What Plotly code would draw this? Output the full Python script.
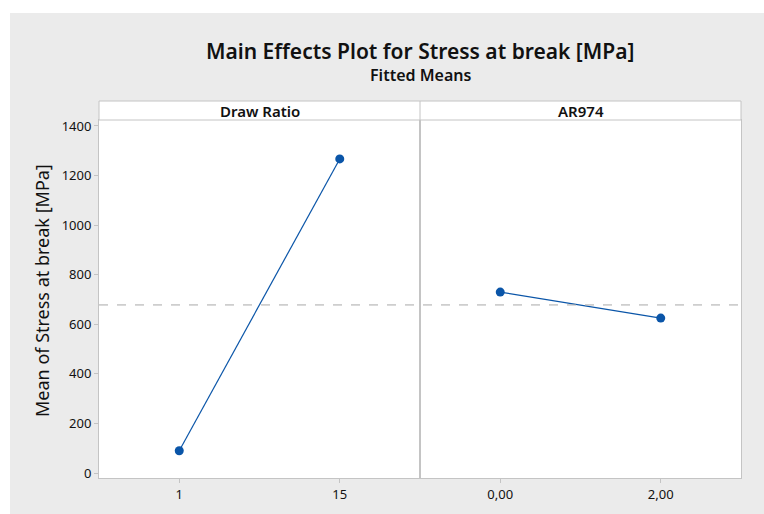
import plotly.graph_objects as go

# ---- data ----
draw_ratio_levels = ["1", "15"]
draw_ratio_means = [90, 1267]
ar974_levels = ["0,00", "2,00"]
ar974_means = [730, 625]
overall_mean = 678
y_ticks = [0, 200, 400, 600, 800, 1000, 1200, 1400]
panel_titles = ["Draw Ratio", "AR974"]

W, H = 764, 514
L, R, T, B = 99, 23, 101, 36
pw, ph = W - L - R, H - T - B
def px(x):
    return (x - L) / pw
def py(y):
    return (H - B - y) / ph

FONT = "Noto Sans"
BLUE = "#0a55a8"
GRID = "#c4c4c4"
BG = "#ebebeb"
TXT = "#111111"
strip_h = 19
ydom_top = (ph - strip_h) / ph

fig = go.Figure()
fig.add_trace(go.Scatter(x=draw_ratio_levels, y=draw_ratio_means, mode="lines+markers",
                         line=dict(color=BLUE, width=1.2), marker=dict(color=BLUE, size=9),
                         xaxis="x", yaxis="y", showlegend=False))
fig.add_trace(go.Scatter(x=ar974_levels, y=ar974_means, mode="lines+markers",
                         line=dict(color=BLUE, width=1.2), marker=dict(color=BLUE, size=9),
                         xaxis="x2", yaxis="y2", showlegend=False))

axis_common = dict(showline=True, linecolor=GRID, linewidth=1, mirror=True,
                   showgrid=False, zeroline=False, ticks="outside", ticklen=4,
                   tickcolor=GRID, tickfont=dict(family=FONT, size=13, color=TXT))
fig.update_layout(
    width=W, height=H,
    margin=dict(l=L, r=R, t=T, b=B),
    paper_bgcolor=BG, plot_bgcolor="white",
    xaxis=dict(domain=[0, 0.5], type="category", range=[-0.5, 1.5], anchor="y", **axis_common),
    xaxis2=dict(domain=[0.5, 1], type="category", range=[-0.5, 1.5], anchor="y2", **axis_common),
    yaxis=dict(domain=[0, ydom_top], range=[-20, 1424], tickvals=y_ticks, anchor="x", **axis_common),
    yaxis2=dict(domain=[0, ydom_top], range=[-20, 1424], matches="y", anchor="x2",
                showticklabels=False, showline=True, linecolor=GRID, mirror=True,
                showgrid=False, zeroline=False, ticks=""),
)

shapes = [
    # white outer strips
    dict(type="rect", xref="paper", yref="paper", x0=px(0), x1=px(W), y0=py(0), y1=py(13),
         fillcolor="white", line=dict(width=0), layer="below"),
    dict(type="rect", xref="paper", yref="paper", x0=px(0), x1=px(10), y0=py(0), y1=py(H),
         fillcolor="white", line=dict(width=0), layer="below"),
    # header strip
    dict(type="rect", xref="paper", yref="paper", x0=0, x1=1, y0=ydom_top, y1=1,
         fillcolor="white", line=dict(color=GRID, width=1)),
    dict(type="line", xref="paper", yref="paper", x0=0.5, x1=0.5, y0=ydom_top, y1=1,
         line=dict(color=GRID, width=1)),
    # overall mean reference line
    dict(type="line", xref="paper", yref="y", x0=0, x1=1, y0=overall_mean, y1=overall_mean,
         line=dict(color="#a8a8a8", width=1, dash="dash")),
]
fig.update_layout(shapes=shapes)

ann = [
    dict(text="Main Effects Plot for Stress at break [MPa]", x=0.5, y=py(51),
         font=dict(family=FONT, size=21, color=TXT, weight=600)),
    dict(text="Fitted Means", x=0.5, y=py(75), font=dict(family=FONT, size=16, color=TXT, weight=600)),
    dict(text=panel_titles[0], x=0.25, y=py(111),
         font=dict(family=FONT, size=15, color=TXT, weight=600)),
    dict(text=panel_titles[1], x=0.75, y=py(111),
         font=dict(family=FONT, size=15, color=TXT, weight=600)),
    dict(text="Mean of Stress at break [MPa]", x=px(42), y=py(291), textangle=-90,
         font=dict(family=FONT, size=18, color=TXT)),
]
for a in ann:
    a.update(xref="paper", yref="paper", showarrow=False, xanchor="center", yanchor="middle")
fig.update_layout(annotations=ann)

fig.write_html("out.html")
